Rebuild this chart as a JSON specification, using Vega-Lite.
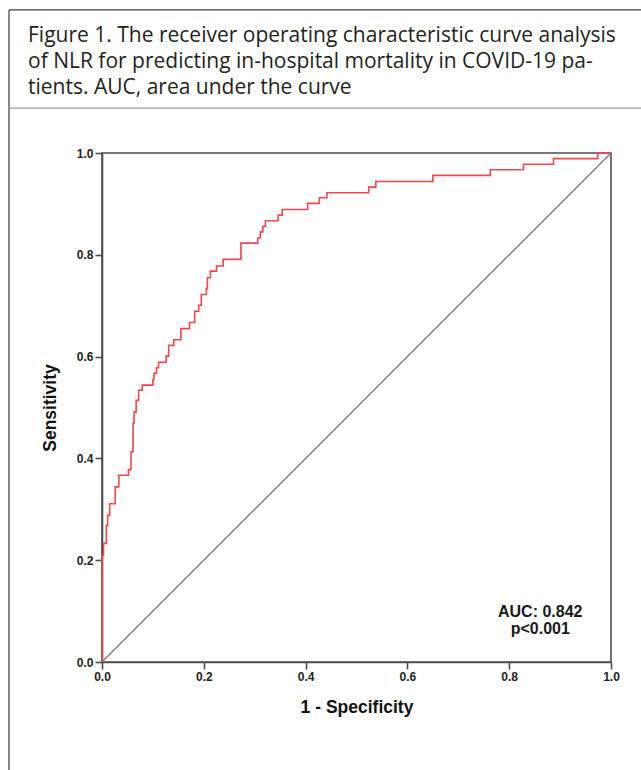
{
  "$schema": "https://vega.github.io/schema/vega-lite/v6.json",
  "width": 509,
  "height": 509,
  "autosize": {"type": "none"},
  "padding": {"left": 102, "top": 153, "right": 30, "bottom": 108},
  "background": "white",
  "title": {
    "text": [
      "Figure 1. The receiver operating characteristic curve analysis",
      "of NLR for predicting in-hospital mortality in COVID-19 pa-",
      "tients. AUC, area under the curve"
    ],
    "anchor": "start",
    "frame": "group",
    "dx": -74,
    "offset": -89,
    "font": "Open Sans, Lato, sans-serif",
    "fontSize": 21,
    "fontWeight": "normal",
    "lineHeight": 26,
    "color": "#231f20"
  },
  "datasets": {
    "roc": [
      {"fpr": 0.0, "tpr": 0.0},
      {"fpr": 0.0, "tpr": 0.21},
      {"fpr": 0.003, "tpr": 0.233},
      {"fpr": 0.0085, "tpr": 0.268},
      {"fpr": 0.011, "tpr": 0.288},
      {"fpr": 0.015, "tpr": 0.311},
      {"fpr": 0.026, "tpr": 0.344},
      {"fpr": 0.033, "tpr": 0.367},
      {"fpr": 0.052, "tpr": 0.378},
      {"fpr": 0.057, "tpr": 0.413},
      {"fpr": 0.061, "tpr": 0.469},
      {"fpr": 0.063, "tpr": 0.491},
      {"fpr": 0.067, "tpr": 0.514},
      {"fpr": 0.072, "tpr": 0.534},
      {"fpr": 0.079, "tpr": 0.544},
      {"fpr": 0.1, "tpr": 0.555},
      {"fpr": 0.102, "tpr": 0.567},
      {"fpr": 0.107, "tpr": 0.578},
      {"fpr": 0.111, "tpr": 0.589},
      {"fpr": 0.126, "tpr": 0.601},
      {"fpr": 0.131, "tpr": 0.622},
      {"fpr": 0.141, "tpr": 0.633},
      {"fpr": 0.155, "tpr": 0.655},
      {"fpr": 0.172, "tpr": 0.667},
      {"fpr": 0.182, "tpr": 0.689},
      {"fpr": 0.19, "tpr": 0.701},
      {"fpr": 0.195, "tpr": 0.722},
      {"fpr": 0.205, "tpr": 0.734},
      {"fpr": 0.207, "tpr": 0.755},
      {"fpr": 0.213, "tpr": 0.768},
      {"fpr": 0.225, "tpr": 0.778},
      {"fpr": 0.238, "tpr": 0.791},
      {"fpr": 0.273, "tpr": 0.823},
      {"fpr": 0.306, "tpr": 0.833},
      {"fpr": 0.311, "tpr": 0.845},
      {"fpr": 0.316, "tpr": 0.856},
      {"fpr": 0.321, "tpr": 0.867},
      {"fpr": 0.346, "tpr": 0.878},
      {"fpr": 0.354, "tpr": 0.889},
      {"fpr": 0.404, "tpr": 0.901},
      {"fpr": 0.427, "tpr": 0.912},
      {"fpr": 0.442, "tpr": 0.922},
      {"fpr": 0.524, "tpr": 0.933},
      {"fpr": 0.538, "tpr": 0.944},
      {"fpr": 0.65, "tpr": 0.956},
      {"fpr": 0.763, "tpr": 0.967},
      {"fpr": 0.828, "tpr": 0.978},
      {"fpr": 0.887, "tpr": 0.989},
      {"fpr": 0.974, "tpr": 1.0},
      {"fpr": 1.0, "tpr": 1.0}
    ],
    "ref": [
      {"fpr": 0.0, "tpr": 0.0},
      {"fpr": 1.0, "tpr": 1.0}
    ],
    "notes": [
      {"fpr": 0.861, "tpr": 0.098, "t": "AUC: 0.842"},
      {"fpr": 0.861, "tpr": 0.064, "t": "p<0.001"}
    ],
    "frame": [
      {"x": -0.1827, "x2": -0.1827, "y": 1.281, "y2": -0.22, "c": "#3a3a3a"},
      {"x": -0.1827, "x2": 1.07, "y": 1.281, "y2": 1.281, "c": "#3a3a3a"},
      {"x": -0.1827, "x2": 1.07, "y": 1.088, "y2": 1.088, "c": "#9a9a9a"}
    ]
  },
  "layer": [
    {
      "data": {"name": "frame"},
      "mark": {"type": "rule", "strokeWidth": 1.2, "clip": false},
      "encoding": {
        "x": {"field": "x", "type": "quantitative"},
        "x2": {"field": "x2"},
        "y": {"field": "y", "type": "quantitative"},
        "y2": {"field": "y2"},
        "color": {"field": "c", "type": "nominal", "scale": null}
      }
    },
    {
      "data": {"name": "ref"},
      "mark": {"type": "line", "color": "#7f7f7f", "strokeWidth": 1.5},
      "encoding": {
        "x": {"field": "fpr", "type": "quantitative"},
        "y": {"field": "tpr", "type": "quantitative"}
      }
    },
    {
      "data": {"name": "roc"},
      "mark": {"type": "line", "color": "#f0464f", "strokeWidth": 1.6, "interpolate": "step-after"},
      "encoding": {
        "x": {
          "field": "fpr",
          "type": "quantitative",
          "scale": {"domain": [0, 1], "nice": false, "zero": false},
          "axis": {
            "title": "1 - Specificity",
            "values": [0, 0.2, 0.4, 0.6, 0.8, 1.0],
            "format": ".1f",
            "titlePadding": 16
          }
        },
        "y": {
          "field": "tpr",
          "type": "quantitative",
          "scale": {"domain": [0, 1], "nice": false, "zero": false},
          "axis": {
            "title": "Sensitivity",
            "values": [0, 0.2, 0.4, 0.6, 0.8, 1.0],
            "format": ".1f",
            "titlePadding": 17
          }
        },
        "order": {"field": "fpr", "type": "quantitative"}
      }
    },
    {
      "data": {"name": "notes"},
      "mark": {"type": "text", "font": "Liberation Sans", "fontWeight": "bold", "fontSize": 16, "align": "center", "baseline": "middle", "color": "#1a1a1a"},
      "encoding": {
        "x": {"field": "fpr", "type": "quantitative"},
        "y": {"field": "tpr", "type": "quantitative"},
        "text": {"field": "t"}
      }
    }
  ],
  "config": {
    "view": {"stroke": "#4d4d4d", "strokeWidth": 1.6},
    "axis": {
      "grid": false,
      "domainColor": "#4d4d4d",
      "domainWidth": 1.6,
      "tickColor": "#4d4d4d",
      "tickWidth": 1.6,
      "tickSize": 7,
      "labelFont": "Liberation Sans",
      "labelFontWeight": "bold",
      "labelFontSize": 12,
      "labelColor": "#222222",
      "labelPadding": 2,
      "labelFlush": false,
      "titleFont": "Liberation Sans",
      "titleFontWeight": "bold",
      "titleFontSize": 17.5,
      "titleColor": "#111111"
    }
  }
}
